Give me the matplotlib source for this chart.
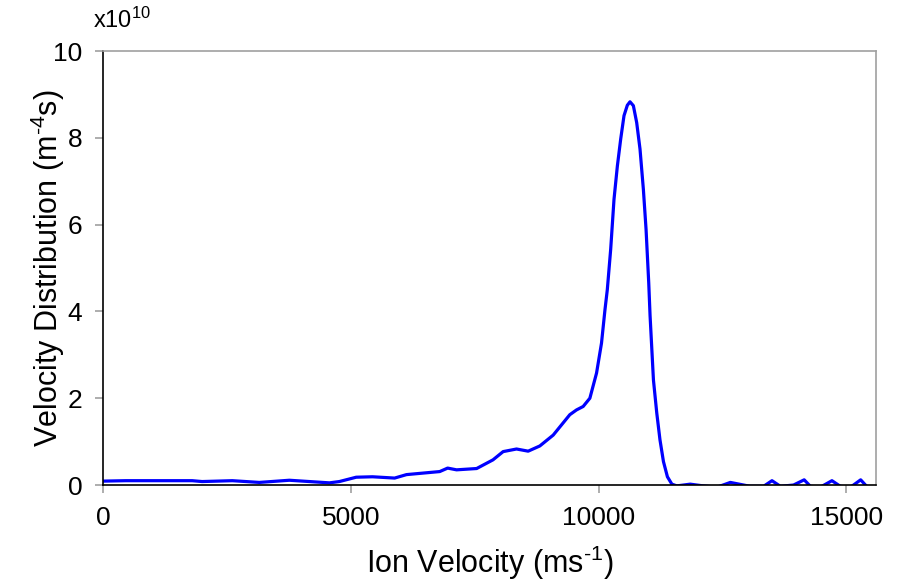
import numpy as np
import matplotlib.pyplot as plt

plt.rcParams['font.family'] = ['Liberation Sans', 'DejaVu Sans']
plt.rcParams['mathtext.fontset'] = 'custom'
plt.rcParams['mathtext.rm'] = 'Liberation Sans'
plt.rcParams['mathtext.it'] = 'Liberation Sans:italic'

# ion velocity (m/s) and velocity distribution (x1e10 m^-4 s)
velocity = [0, 460, 1000, 1800, 2000, 2610, 3155, 3760, 4165, 4570, 4770,
            5110, 5440, 5885, 6125, 6795, 6955, 7135, 7540, 7870, 8075,
            8345, 8580, 8815, 9085, 9420, 9555, 9690, 9825, 9960, 10060,
            10130, 10177, 10245, 10312, 10380, 10447, 10514, 10581, 10635,
            10703, 10770, 10837, 10905, 10959, 11013, 11040, 11108, 11175,
            11240, 11310, 11390, 11480, 11580, 11850, 12115,
            12390, 12660, 13060, 13330, 13500, 13670, 13935, 14150, 14275,
            14475, 14710, 14880, 15085, 15290, 15410]
distribution = [0.09, 0.10, 0.10, 0.10, 0.08, 0.10, 0.06, 0.11, 0.08, 0.05, 0.08,
                0.18, 0.19, 0.16, 0.24, 0.31, 0.39, 0.35, 0.38, 0.58, 0.77,
                0.83, 0.78, 0.90, 1.15, 1.62, 1.73, 1.81, 2.00, 2.58, 3.27,
                4.04, 4.50, 5.43, 6.58, 7.35, 7.97, 8.51, 8.75, 8.83,
                8.74, 8.35, 7.74, 6.81, 5.89, 4.66, 3.90, 2.42, 1.66,
                1.04, 0.54, 0.19, 0.02, -0.02, 0.02, -0.02,
                -0.05, 0.06, -0.03, -0.03, 0.10, -0.03, 0.00, 0.12, -0.03,
                -0.05, 0.10, -0.03, -0.05, 0.12, -0.03]

x_ticks = [0, 5000, 10000, 15000]
y_ticks = [0, 2, 4, 6, 8, 10]

fig = plt.figure(figsize=(9.01, 5.85), dpi=100)
ax = fig.add_axes([0.1143, 0.1709, 0.8580, 0.7419])

ax.plot(velocity, distribution, color='#0000FF', linewidth=2.3)

ax.set_xlim(0, 15600)
ax.set_ylim(0, 10)
ax.set_xticks(x_ticks)
ax.set_yticks(y_ticks)

grey = '#a0a0a0'
ax.spines['left'].set_color('black')
ax.spines['bottom'].set_color('black')
ax.spines['top'].set_color(grey)
ax.spines['right'].set_color(grey)
for s in ax.spines.values():
    s.set_linewidth(1.2)
    s.set_zorder(3)

ax.tick_params(axis='both', direction='out', length=6, width=1.2, color=grey,
               labelsize=19, pad=9)

ax.set_xlabel('Ion Velocity (ms$^{\\text{-}1}$)', fontsize=22)
ax.set_ylabel('Velocity Distribution (m$^{\\text{-}4}$s)', fontsize=22)
ax.xaxis.set_label_coords(0.5, -0.135)
ax.yaxis.set_label_coords(-0.047, 0.5)

fig.text(0.103, 0.965, 'x10$^{10}$', fontsize=17, ha='left', va='center')

fig.savefig('out.png', dpi=100)
